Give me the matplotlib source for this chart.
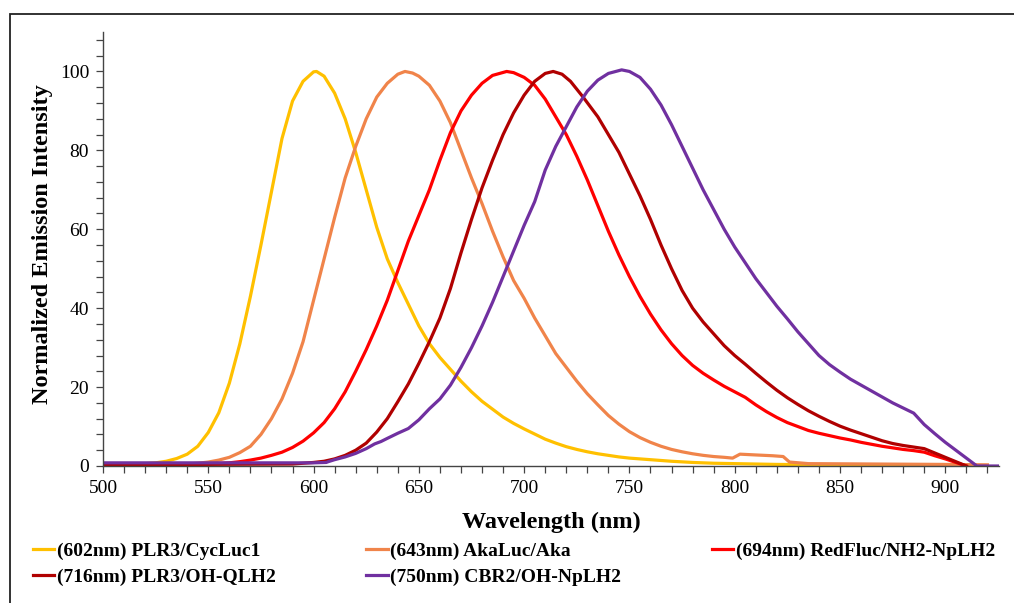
import matplotlib
matplotlib.use("Agg")
import matplotlib.pyplot as plt
from matplotlib.patches import Rectangle
from matplotlib.ticker import MultipleLocator

plt.rcParams['font.family'] = ['Liberation Serif', 'DejaVu Serif']

# ---- data (wavelength nm, normalized intensity) ----
yellow_x = [500, 510, 520, 525, 530, 535, 540, 545, 550, 555, 560, 565, 570, 575, 580, 585,
            590, 595, 600, 601.4, 605, 610, 615, 620, 625, 630, 635, 640, 645, 650, 655, 660,
            665, 670, 675, 680, 685, 690, 695, 700, 705, 710, 715, 720, 725, 730, 735, 740,
            745, 750, 760, 770, 780, 790, 800, 820, 850, 910]
yellow_y = [0.5, 0.5, 0.6, 0.8, 1.2, 1.9, 3.0, 5.0, 8.5, 13.5, 21, 31, 43, 56, 69.5, 83,
            92.5, 97.5, 99.9, 100, 98.8, 94.5, 88, 79.5, 70, 60.5, 52.5, 46.5, 41, 35.5, 31, 27.5,
            24.5, 21.5, 18.8, 16.4, 14.4, 12.4, 10.8, 9.4, 8.1, 6.8, 5.8, 4.9, 4.2, 3.6, 3.1, 2.7,
            2.3, 2.0, 1.6, 1.2, 0.9, 0.7, 0.6, 0.4, 0.3, 0.3]

orange_x = [500, 540, 545, 550, 555, 560, 565, 570, 575, 580, 585, 590, 595, 600, 605, 610,
            615, 620, 625, 630, 635, 640, 643.4, 647, 650, 655, 660, 665, 670, 675, 680, 685,
            690, 695, 700, 705, 710, 715, 720, 725, 730, 735, 740, 745, 750, 755, 760, 765,
            770, 775, 780, 785, 790, 795, 799, 802.5, 810, 818, 823, 826, 835, 900, 920]
orange_y = [0.5, 0.5, 0.7, 1.0, 1.5, 2.2, 3.4, 5.0, 8.0, 12, 17, 23.5, 31.5, 42, 52.5, 63,
            73, 81, 88, 93.5, 97, 99.3, 100, 99.6, 98.8, 96.5, 92.5, 87, 80, 73, 66.5, 59.5,
            53, 47, 42.5, 37.5, 33, 28.5, 25, 21.5, 18.3, 15.5, 12.8, 10.6, 8.7, 7.2, 6.0, 5.0,
            4.2, 3.6, 3.1, 2.7, 2.4, 2.2, 2.0, 3.0, 2.8, 2.6, 2.4, 1.0, 0.6, 0.4, 0.3]

red_x = [500, 550, 560, 565, 570, 575, 580, 585, 590, 595, 600, 605, 610, 615, 620, 625,
         630, 635, 640, 645, 650, 655, 660, 665, 670, 675, 680, 685, 691.7, 695, 700, 705,
         710, 715, 720, 725, 730, 735, 740, 745, 750, 755, 760, 765, 770, 775, 780, 785,
         790, 795, 800, 805, 810, 815, 820, 825, 830, 835, 840, 845, 850, 855, 860, 865,
         870, 875, 880, 885, 890, 895, 900, 905, 910]
red_y = [0.4, 0.5, 0.8, 1.1, 1.5, 2.0, 2.7, 3.5, 4.7, 6.3, 8.4, 11, 14.5, 18.8, 24, 29.5,
         35.5, 42, 49.5, 57, 63.5, 70, 77.5, 84.5, 90, 94, 97, 99, 100, 99.7, 98.5, 96.5,
         93, 88.5, 84, 78.5, 72.5, 66, 59.5, 53.5, 48, 43, 38.5, 34.5, 31, 28, 25.5, 23.5,
         21.8, 20.2, 18.8, 17.4, 15.5, 13.8, 12.3, 11, 10, 9.0, 8.3, 7.7, 7.1, 6.6, 6.0, 5.5,
         5.0, 4.6, 4.2, 3.9, 3.5, 2.6, 1.8, 0.9, 0]

darkred_x = [500, 590, 600, 605, 610, 615, 620, 625, 630, 635, 640, 645, 650, 655, 660, 665,
             670, 675, 680, 685, 690, 695, 700, 705, 710, 713.8, 718, 722, 728, 735, 740, 745,
             750, 755, 760, 765, 770, 775, 780, 785, 790, 795, 800, 805, 810, 815, 820, 825,
             830, 835, 840, 845, 850, 855, 860, 865, 870, 875, 880, 885, 890, 895, 900, 905, 910]
darkred_y = [0.3, 0.5, 0.9, 1.2, 1.8, 2.7, 4.0, 5.8, 8.6, 12, 16.3, 20.8, 26, 31.5, 37.5, 45,
             54, 62.5, 70.5, 77.5, 84, 89.5, 94, 97.5, 99.5, 100, 99.3, 97.5, 93.5, 88.5, 84, 79.5,
             74, 68.5, 62.5, 56, 50, 44.5, 40, 36.5, 33.5, 30.5, 28, 25.8, 23.5, 21.3, 19.2, 17.3,
             15.6, 14, 12.6, 11.3, 10.1, 9.1, 8.2, 7.3, 6.4, 5.7, 5.2, 4.8, 4.4, 3.3, 2.2, 1.1, 0]

purple_x = [500, 600, 606, 607, 610, 615, 620, 625, 627, 629, 632, 635, 640, 645, 650, 655,
            660, 665, 670, 675, 680, 685, 690, 695, 700, 705, 710, 715, 720, 725, 730, 735,
            740, 746.3, 750, 755, 760, 765, 770, 775, 780, 785, 790, 795, 800, 805, 810, 815,
            820, 825, 830, 835, 840, 845, 850, 855, 860, 865, 870, 875, 880, 885, 890, 895,
            900, 905, 910, 915, 925]
purple_y = [0.8, 0.8, 0.9, 1.1, 1.6, 2.3, 3.2, 4.4, 5.0, 5.6, 6.2, 7.0, 8.3, 9.5, 11.7, 14.5,
            17, 20.5, 25, 30, 35.5, 41.5, 48, 54.5, 61, 67, 75, 81, 86, 91, 95, 97.8,
            99.5, 100.4, 100, 98.5, 95.5, 91.5, 86.5, 81, 75.5, 70, 65, 60, 55.5, 51.5, 47.5, 44,
            40.5, 37.3, 34, 31, 28, 25.7, 23.8, 22, 20.5, 19, 17.5, 16, 14.7, 13.4, 10.5, 8.2,
            6, 4, 2, 0, 0]

labels = ["(602nm) PLR3/CycLuc1", "(643nm) AkaLuc/Aka", "(694nm) RedFluc/NH2-NpLH2",
          "(716nm) PLR3/OH-QLH2", "(750nm) CBR2/OH-NpLH2"]
colors = ["#FFC000", "#F0844A", "#FF0000", "#B00000", "#7030A0"]

fig = plt.figure(figsize=(10.14, 6.03), dpi=100)
ax = fig.add_axes([103 / 1014, 1 - 466 / 603, 896 / 1014, 434 / 603])

series = [(yellow_x, yellow_y), (orange_x, orange_y), (red_x, red_y),
          (darkred_x, darkred_y), (purple_x, purple_y)]
lines = []
for (xs, ys), c, lab in zip(series, colors, labels):
    ln, = ax.plot(xs, ys, color=c, lw=2.3, label=lab, solid_joinstyle='round')
    lines.append(ln)

ax.set_xlim(500, 925.5)
ax.set_ylim(0, 110)
ax.xaxis.set_major_locator(MultipleLocator(50))
ax.xaxis.set_minor_locator(MultipleLocator(10))
ax.yaxis.set_major_locator(MultipleLocator(20))
ax.yaxis.set_minor_locator(MultipleLocator(4))
for s in ["top", "right"]:
    ax.spines[s].set_visible(False)
for s in ["left", "bottom"]:
    ax.spines[s].set_color("#444444")
    ax.spines[s].set_linewidth(1.0)
ax.tick_params(which="both", direction="out", length=5, width=0.9, color="#444444",
               labelsize=14, pad=5)
ax.set_yticks([0, 20, 40, 60, 80, 100])

ax.set_xlabel("Wavelength (nm)", fontsize=17.5, fontweight="bold")
ax.xaxis.set_label_coords(0.5, -0.105)
ax.set_ylabel("Normalized Emission Intensity", fontsize=17.5, fontweight="bold")
ax.yaxis.set_label_coords(-0.056, 0.511)

# legend in row order: fill column-wise so rows read left to right
order = [0, 3, 1, 4, 2]
fig.legend([lines[i] for i in order], [labels[i] for i in order],
           loc="center left", bbox_to_anchor=(25 / 1014, 1 - 593 / 603, 978 / 1014, 58 / 603),
           mode="expand", ncol=3, frameon=False, handlelength=1.1, handletextpad=0.15,
           borderaxespad=0, labelspacing=0.45,
           prop={"family": "Liberation Serif", "weight": "bold", "size": 14})

# frame around the whole figure (open at right and bottom like the crop)
fig.patches.append(Rectangle((10 / 1014, -0.2), 1.2, 0.2 + (1 - 14 / 603),
                             transform=fig.transFigure, fill=False,
                             edgecolor="#222222", lw=1.3))

fig.savefig("out.png", dpi=100)
